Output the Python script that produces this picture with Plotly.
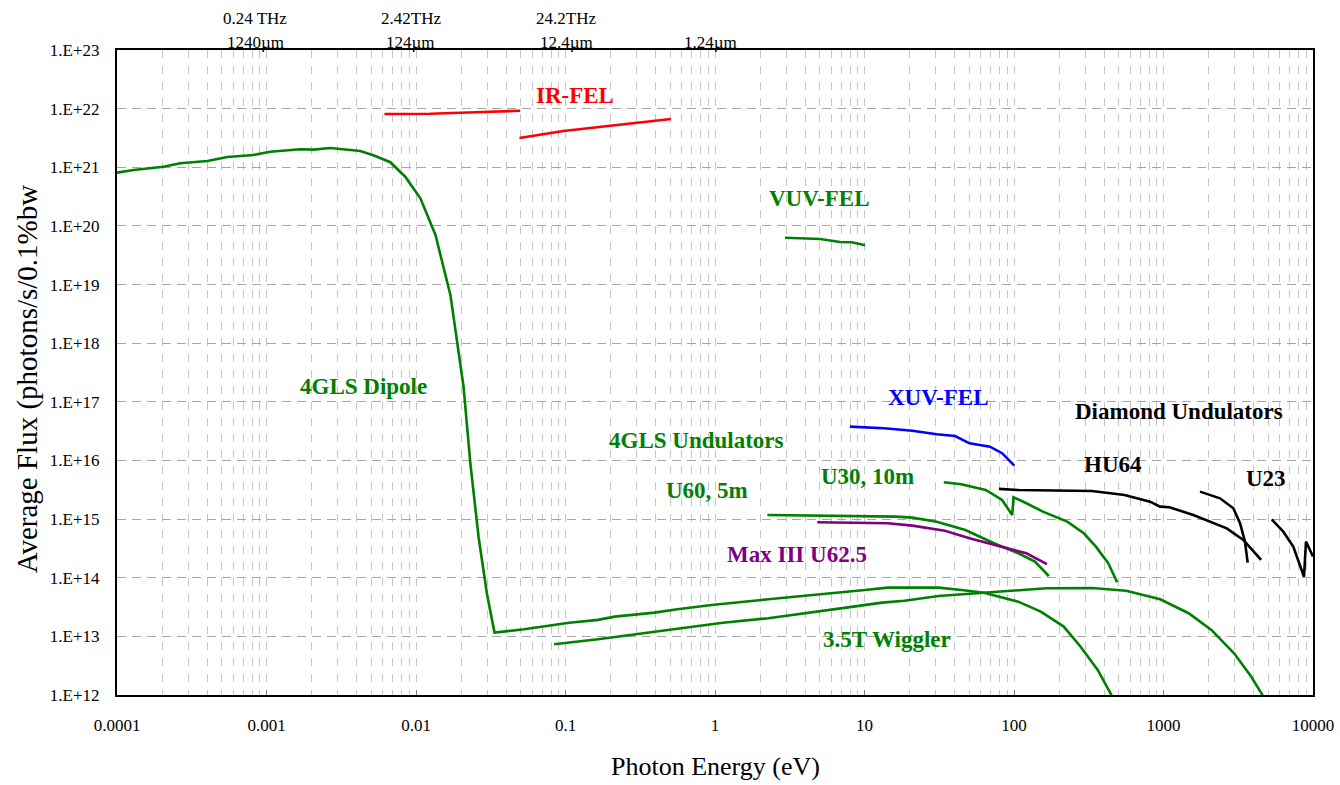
import plotly.graph_objects as go

# ---------------- data (photon energy in eV, flux in photons/s/0.1%bw) ----------------
dipole_E = [1.0e-4, 1.29e-4, 2.04e-4, 2.65e-4, 4.02e-4, 5.47e-4, 8.15e-4, 1.06e-3, 1.68e-3, 2.06e-3,
            2.67e-3, 4.24e-3, 5.18e-3, 6.73e-3, 8.47e-3, 1.07e-2, 1.35e-2, 1.70e-2, 2.08e-2, 2.31e-2,
            2.62e-2, 2.98e-2, 3.35e-2, 5.28e-2, 0.106, 0.165, 0.214, 0.394, 0.561, 0.948,
            2.27, 4.99, 10.07, 14.3, 31.3, 44.5, 63.1, 106.7, 151, 215, 279, 363, 452, 500]
dipole_F = [8.1e20, 9.0e20, 1.02e21, 1.17e21, 1.28e21, 1.50e21, 1.62e21, 1.84e21, 2.03e21, 2.0e21,
            2.13e21, 1.90e21, 1.60e21, 1.22e21, 6.9e20, 2.96e20, 7.0e19, 6.6e18, 1.81e17, 8.95e15,
            5.0e14, 5.4e13, 1.16e13, 1.32e13, 1.71e13, 1.91e13, 2.17e13, 2.54e13, 2.90e13, 3.43e13,
            4.29e13, 5.14e13, 6.18e13, 6.77e13, 6.77e13, 6.18e13, 5.56e13, 3.91e13, 2.64e13, 1.47e13,
            6.67e12, 2.67e12, 1.0e12, 6.0e11]

wiggler_E = [0.0839, 0.165, 0.362, 0.869, 1.13, 2.27, 4.99, 8.44, 13.1, 18.5, 31.3, 69.0,
             106.7, 165, 333, 562, 951, 1472, 2091, 2965, 3855, 4592, 4900]
wiggler_F = [7.33e12, 8.93e12, 1.16e13, 1.56e13, 1.71e13, 2.04e13, 2.64e13, 3.21e13, 3.76e13,
             4.06e13, 4.89e13, 5.65e13, 6.01e13, 6.61e13, 6.68e13, 6.01e13, 4.29e13, 2.48e13,
             1.29e13, 5.15e12, 2.06e12, 1.0e12, 7.0e11]

ir_fel_a_E = [6.15e-3, 1.245e-2, 2.49e-2, 4.98e-2]
ir_fel_a_F = [8.1e21, 8.2e21, 8.67e21, 9.2e21]
ir_fel_b_E = [4.92e-2, 9.68e-2, 0.507]
ir_fel_b_F = [3.16e21, 4.16e21, 6.66e21]

vuv_fel_E = [2.94, 3.90, 5.05, 6.87, 8.22, 10.1]
vuv_fel_F = [6.30e19, 6.06e19, 5.98e19, 5.32e19, 5.26e19, 4.67e19]

xuv_fel_E = [7.99, 13.5, 20.9, 30.4, 40.4, 50.4, 69.0, 83.2, 100.5]
xuv_fel_F = [3.77e16, 3.54e16, 3.22e16, 2.79e16, 2.61e16, 1.96e16, 1.72e16, 1.33e16, 8.15e15]

u30_E = [33.9, 44.4, 64.7, 83.2, 97.3, 99.3, 121, 156, 227, 293, 353, 427, 490]
u30_F = [4.25e15, 3.93e15, 3.14e15, 2.12e15, 1.175e15, 2.36e15, 1.86e15, 1.34e15, 9.04e14,
         5.73e14, 3.39e14, 1.77e14, 8.37e13]

u60_E = [2.24, 8.67, 16.3, 20.9, 30.4, 47.3, 73.5, 107, 138, 171]
u60_F = [1.175e15, 1.14e15, 1.10e15, 1.06e15, 9.04e14, 6.52e14, 3.87e14, 2.61e14, 1.88e14, 1.07e14]

max3_E = [4.83, 14.3, 20.9, 34.5, 50.4, 73.5, 121, 166]
max3_F = [8.83e14, 8.49e14, 7.73e14, 6.35e14, 4.71e14, 3.62e14, 2.61e14, 1.70e14]

hu64_E = [79.2, 107, 332, 549, 813, 948, 1096, 1582, 2649, 3420, 4498]
hu64_F = [3.27e15, 3.14e15, 3.02e15, 2.58e15, 1.98e15, 1.63e15, 1.59e15, 1.175e15, 6.96e14,
          4.41e14, 2.01e14]

u23a_E = [1754, 2388, 2931, 3251, 3508, 3656]
u23a_F = [2.94e15, 2.26e15, 1.53e15, 8.49e14, 4.12e14, 1.81e14]
u23b_E = [5297, 6324, 7379, 8707, 8976, 10000]
u23b_F = [9.93e14, 6.10e14, 3.39e14, 1.04e14, 4.12e14, 2.3e14]

x_tickvals = [1e-4, 1e-3, 1e-2, 1e-1, 1, 10, 100, 1000, 10000]
x_ticktext = ["0.0001", "0.001", "0.01", "0.1", "1", "10", "100", "1000", "10000"]
y_tickvals = [10.0 ** k for k in range(12, 24)]
y_ticktext = ["1.E+%d" % k for k in range(12, 24)]

top_labels = [("0.24 THz", "1240\u00b5m", 0.1156), ("2.42THz", "124\u00b5m", 0.2456),
              ("24.2THz", "12.4\u00b5m", 0.3756), ("", "1.24\u00b5m", 0.4959)]

GREEN = "#008000"
RED = "#ff0000"
BLUE = "#0000ff"
PURPLE = "#800080"
BLACK = "#000000"
FONT = "Liberation Serif, Times New Roman, Times, serif"

fig = go.Figure()


def add(x, y, color, name):
    fig.add_trace(go.Scatter(x=x, y=y, mode="lines", name=name, showlegend=False,
                             line=dict(color=color, width=2.6), hoverinfo="skip"))


add(wiggler_E, wiggler_F, GREEN, "3.5T Wiggler")
add(dipole_E, dipole_F, GREEN, "4GLS Dipole")
add(ir_fel_a_E, ir_fel_a_F, RED, "IR-FEL")
add(ir_fel_b_E, ir_fel_b_F, RED, "IR-FEL")
add(vuv_fel_E, vuv_fel_F, GREEN, "VUV-FEL")
add(xuv_fel_E, xuv_fel_F, BLUE, "XUV-FEL")
add(u30_E, u30_F, GREEN, "U30, 10m")
add(u60_E, u60_F, GREEN, "U60, 5m")
add(max3_E, max3_F, PURPLE, "Max III U62.5")
add(hu64_E, hu64_F, BLACK, "HU64")
add(u23a_E, u23a_F, BLACK, "U23")
add(u23b_E, u23b_F, BLACK, "U23")

# series labels (paper coords)
labels = [
    ("IR-FEL", 0.383, 0.930, RED),
    ("VUV-FEL", 0.587, 0.7705, GREEN),
    ("4GLS Dipole", 0.206, 0.479, GREEN),
    ("XUV-FEL", 0.6865, 0.4605, BLUE),
    ("Diamond Undulators", 0.8877, 0.4403, BLACK),
    ("4GLS Undulators", 0.4848, 0.3938, GREEN),
    ("U30, 10m", 0.6272, 0.338, GREEN),
    ("U60, 5m", 0.4934, 0.3178, GREEN),
    ("HU64", 0.8329, 0.3581, BLACK),
    ("U23", 0.9607, 0.3364, BLACK),
    ("Max III U62.5", 0.5687, 0.2186, PURPLE),
    ("3.5T Wiggler", 0.6439, 0.0853, GREEN),
]
annotations = []
for txt, x, y, c in labels:
    annotations.append(dict(text="<b>%s</b>" % txt, x=x, y=y, xref="paper", yref="paper",
                            xanchor="center", yanchor="middle", showarrow=False,
                            font=dict(family=FONT, size=23, color=c)))
for l1, l2, x in top_labels:
    if l1:
        annotations.append(dict(text=l1, x=x, y=1.0496, xref="paper", yref="paper",
                                xanchor="center", yanchor="middle", showarrow=False,
                                font=dict(family=FONT, size=17, color="black")))
    annotations.append(dict(text=l2, x=x, y=1.0124, xref="paper", yref="paper",
                            xanchor="center", yanchor="middle", showarrow=False,
                            font=dict(family=FONT, size=17, color="black")))
annotations.append(dict(text="Photon Energy (eV)", x=0.5, y=-0.1116, xref="paper", yref="paper",
                        xanchor="center", yanchor="middle", showarrow=False,
                        font=dict(family=FONT, size=26, color="black")))
annotations.append(dict(text="Average Flux (photons/s/0.1%bw", x=-0.0741, y=0.49, xref="paper",
                        yref="paper", xanchor="center", yanchor="middle", showarrow=False,
                        textangle=-90, font=dict(family=FONT, size=29, color="black")))

minor_x = [m * 10.0 ** k for k in range(-4, 4) for m in range(2, 10)]

fig.update_layout(
    width=1340, height=785,
    margin=dict(l=117, r=27, t=50, b=90, autoexpand=False),
    paper_bgcolor="white", plot_bgcolor="white",
    font=dict(family=FONT, size=17, color="black"),
    annotations=annotations,
    xaxis=dict(type="log", range=[-4, 4], tickmode="array", tickvals=x_tickvals,
               ticktext=x_ticktext, showline=True, linecolor="black", linewidth=2, mirror=True,
               ticks="inside", ticklen=5, tickcolor="#808080", ticklabelstandoff=14,
               automargin=False,
               showgrid=True, gridcolor="#c4c4c4", gridwidth=1, griddash="8px,8px",
               minor=dict(tickmode="array", tickvals=minor_x, showgrid=True, gridcolor="#c4c4c4",
                          gridwidth=1, griddash="8px,8px", ticks=""),
               zeroline=False, tickfont=dict(family=FONT, size=17, color="black")),
    yaxis=dict(type="log", range=[12, 23], tickmode="array", tickvals=y_tickvals,
               ticktext=y_ticktext, showline=True, linecolor="black", linewidth=2, mirror=True,
               ticks="", ticklabelstandoff=12, automargin=False,
               showgrid=True, gridcolor="#a6a6a6", gridwidth=1, griddash="9px,6px",
               zeroline=False, tickfont=dict(family=FONT, size=17, color="black")),
)

fig.write_html("out.html", include_plotlyjs=True, config={"displayModeBar": False},
               post_script="document.body.style.margin='0';document.body.style.padding='0';"
                           "document.body.style.overflow='hidden';")
